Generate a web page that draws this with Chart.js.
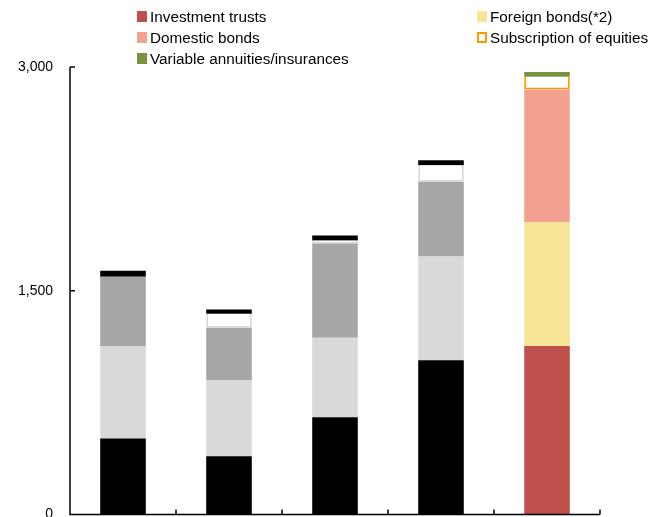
<!DOCTYPE html>
<html>
<head>
<meta charset="utf-8">
<script src="https://cdn.jsdelivr.net/npm/chart.js@4/dist/chart.umd.min.js"></script>
<style>
  html, body { margin: 0; padding: 0; background: #fff; }
  #wrap { position: relative; width: 650px; height: 517px; overflow: hidden; }
  canvas { position: absolute; left: 0; top: 0; }
  .leg { position: absolute; font: 15.3px "Liberation Sans", Arial, sans-serif; color: #000; white-space: nowrap; line-height: 17px; }
  .leg i { position: absolute; left: -13px; top: 3px; width: 10px; height: 11px; box-sizing: border-box; }
</style>
</head>
<body>
<div id="wrap">
  <canvas id="chart" width="650" height="535"></canvas>
  <div id="legend"></div>
</div>
<script>
// categories (x labels are not shown)
const categories = ["A", "B", "C", "D", "E"];

// stacked series, bottom to top
const investmentTrusts = [510, 390, 652, 1034, 1130];
const foreignBonds = [620, 511, 533, 695, 829];
const domesticBonds = [464, 350, 632, 500, 890];
const subscriptionEquities = [0, 94, 20, 112, 85];
const variableAnnuities = [40, 30, 34, 34, 32];

const yTicks = [0, 1500, 3000];

const RED = "#C0504D", YELLOW = "#F5E595", SALMON = "#F4A192", ORANGE = "#FF9A00", GREEN = "#77933C";

// first four bars in greys, the last one in colour
const perBar = (grey, col) => [grey, grey, grey, grey, col];

const legendItems = [
  { label: "Investment trusts", color: RED, x: 150, y: 8 },
  { label: "Foreign bonds(*2)", color: YELLOW, x: 490, y: 8 },
  { label: "Domestic bonds", color: SALMON, x: 150, y: 29 },
  { label: "Subscription of equities", color: ORANGE, x: 490, y: 29, outline: true },
  { label: "Variable annuities/insurances", color: GREEN, x: 150, y: 50 }
];

const legendEl = document.getElementById("legend");
legendItems.forEach(it => {
  const d = document.createElement("div");
  d.className = "leg";
  d.style.left = it.x + "px";
  d.style.top = it.y + "px";
  const box = document.createElement("i");
  if (it.outline) {
    box.style.border = "2px solid " + it.color;
    box.style.background = "#fff";
  } else {
    box.style.background = it.color;
  }
  d.appendChild(box);
  d.appendChild(document.createTextNode(it.label));
  legendEl.appendChild(d);
});

// axis lines with inward tick marks
const axisPlugin = {
  id: "axisLines",
  afterDatasetsDraw(chart) {
    const { ctx, chartArea, scales } = chart;
    const y = scales.y, x = scales.x;
    ctx.save();
    ctx.strokeStyle = "#000";
    ctx.lineWidth = 1.5;
    ctx.beginPath();
    ctx.moveTo(chartArea.left, chartArea.top);
    ctx.lineTo(chartArea.left, chartArea.bottom);
    ctx.lineTo(chartArea.right, chartArea.bottom);
    yTicks.forEach(v => {
      const py = y.getPixelForValue(v);
      ctx.moveTo(chartArea.left, py);
      ctx.lineTo(chartArea.left + 5, py);
    });
    for (let i = 0; i < categories.length; i++) {
      const bx = i < categories.length - 1
        ? (x.getPixelForValue(i) + x.getPixelForValue(i + 1)) / 2
        : chartArea.right;
      ctx.moveTo(bx, chartArea.bottom);
      ctx.lineTo(bx, chartArea.bottom - 5);
    }
    ctx.stroke();
    ctx.restore();
  }
};

const common = { barPercentage: 0.43, categoryPercentage: 1.0, borderWidth: 0 };

new Chart(document.getElementById("chart"), {
  type: "bar",
  data: {
    labels: categories,
    datasets: [
      { ...common, label: "Investment trusts", data: investmentTrusts, backgroundColor: perBar("#000000", RED) },
      { ...common, label: "Foreign bonds(*2)", data: foreignBonds, backgroundColor: perBar("#D9D9D9", YELLOW) },
      { ...common, label: "Domestic bonds", data: domesticBonds, backgroundColor: perBar("#A6A6A6", SALMON) },
      { ...common, label: "Subscription of equities", data: subscriptionEquities, backgroundColor: "#FFFFFF",
        borderColor: perBar("#D9D9D9", ORANGE), borderWidth: 2, borderSkipped: "end" },
      { ...common, label: "Variable annuities/insurances", data: variableAnnuities, backgroundColor: perBar("#000000", GREEN) }
    ]
  },
  options: {
    responsive: false,
    animation: false,
    layout: { padding: { left: 0, right: 50, top: 67, bottom: 4 } },
    plugins: { legend: { display: false }, tooltip: { enabled: false } },
    scales: {
      x: {
        display: false,
        stacked: true
      },
      y: {
        stacked: true,
        min: 0,
        max: 3000,
        afterBuildTicks: s => { s.ticks = yTicks.map(v => ({ value: v })); },
        grid: { display: false, drawTicks: false },
        border: { display: false },
        ticks: {
          padding: 17,
          color: "#000",
          font: { family: "'Liberation Sans', Arial, sans-serif", size: 14, lineHeight: 0.5 },
          callback: v => v.toLocaleString("en-US")
        },
        afterFit: s => { s.width = 70; }
      }
    }
  },
  plugins: [axisPlugin]
});
</script>
</body>
</html>
